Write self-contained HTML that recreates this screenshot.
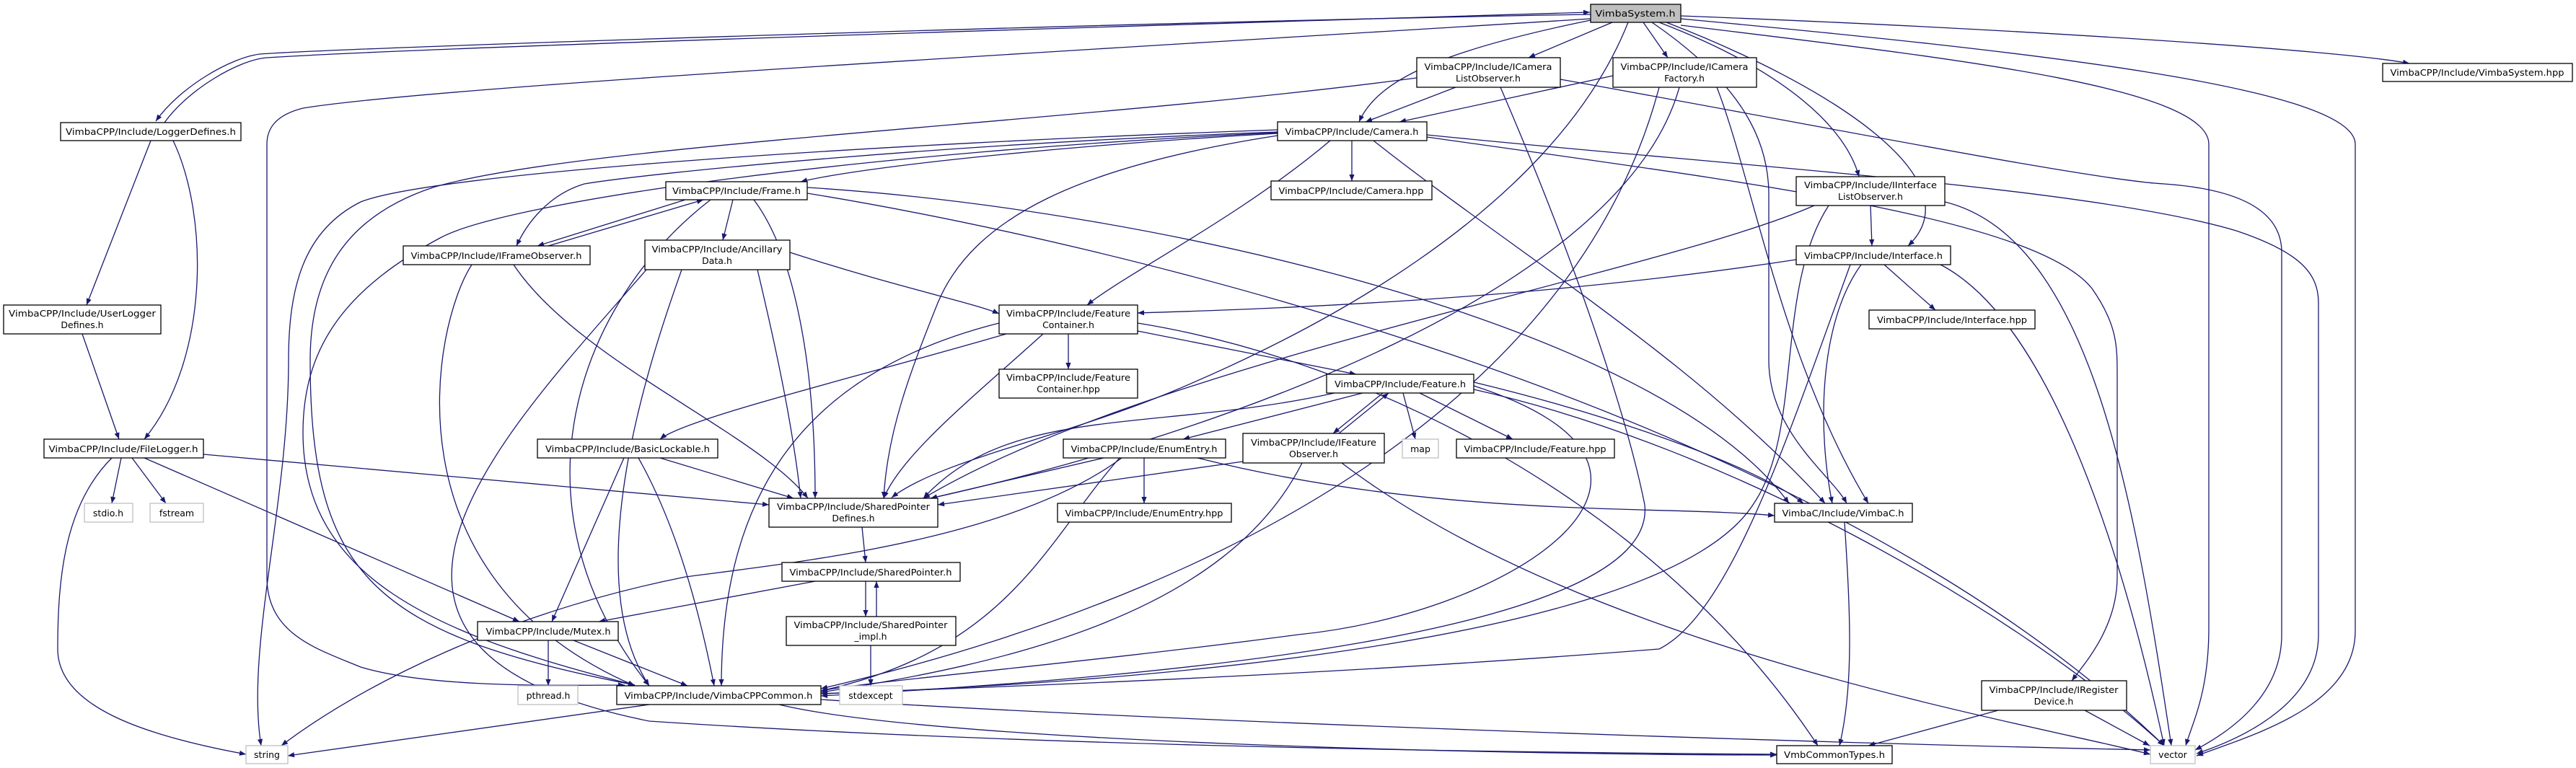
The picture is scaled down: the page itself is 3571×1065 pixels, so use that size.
<!DOCTYPE html>
<html><head><meta charset="utf-8"><style>
html,body{margin:0;padding:0;background:#fff;}
svg{display:block;}
text{font-family:"DejaVu Sans","Liberation Sans",sans-serif;font-size:12.5px;fill:#000;}
.e{fill:none;stroke:#191970;stroke-width:1.3;marker-end:url(#a);}
.n{fill:#fff;stroke:#000;stroke-width:1.3;}
.g{fill:#fff;stroke:#bfbfbf;stroke-width:1.3;}
</style></head><body>
<svg width="3571" height="1065" viewBox="0 0 3571 1065" xmlns="http://www.w3.org/2000/svg">
<defs><marker id="a" viewBox="0 0 10 10" refX="10" refY="5" markerWidth="11" markerHeight="9" markerUnits="userSpaceOnUse" orient="auto"><path d="M0,1 L10,5 L0,9z" fill="#191970"/></marker></defs>
<g>
<path class="e" d="M2205,20 C1600,30 500,65 360,75 C320,80 250,120 216,168"/>
<path class="e" d="M228,170 C260,125 330,83 370,80 C600,65 1600,35 2204,17"/>
<path class="e" d="M2205,26 C1500,70 600,120 420,150 C380,160 370,180 370,200 L370,800 C370,880 440,900 500,925 C600,955 780,950 866,950"/>
<path class="e" d="M2235,31 L2119,80"/>
<path class="e" d="M2278,31 L2312,80"/>
<path class="e" d="M2205,28 C2000,70 1910,110 1884,169"/>
<path class="e" d="M2257,31 C2150,300 1800,470 1620,545 C1460,610 1300,640 1236,690"/>
<path class="e" d="M2290,31 C2420,120 2452,200 2452,270 L2452,500 C2452,600 2540,660 2560,698"/>
<path class="e" d="M2300,31 C2480,100 2560,180 2577,245"/>
<path class="e" d="M2310,31 C2540,120 2740,250 2645,341"/>
<path class="e" d="M2330,22 C2800,40 3250,70 3340,88"/>
<path class="e" d="M2330,26 C2800,70 3265,120 3265,200 L3265,875 C3265,980 3120,1020 3045,1048"/>
<path class="e" d="M2163,110 C2500,170 2900,250 3000,255 C3100,262 3163,290 3163,350 L3163,880 C3163,960 3100,1010 3043,1040"/>
<path class="e" d="M1978,187 C2400,230 2900,260 3100,320 C3190,350 3214,380 3214,420 L3214,880 C3214,970 3120,1020 3045,1045"/>
<path class="e" d="M2330,35 C2700,80 3062,120 3062,200 L3062,870 C3062,960 3040,1000 3030,1034"/>
<path class="e" d="M1874,195 L1874,251"/>
<path class="e" d="M1771,185 C1500,200 1200,230 1110,252"/>
<path class="e" d="M1771,183 C1300,200 900,240 810,255 C760,270 730,310 716,341"/>
<path class="e" d="M1844,195 C1720,300 1560,380 1507,423"/>
<path class="e" d="M1771,188 C1500,230 1350,300 1300,420 C1260,520 1230,600 1225,691"/>
<path class="e" d="M1904,195 C2100,350 2350,500 2530,698"/>
<path class="e" d="M1771,180 C1200,200 600,240 500,280 C420,320 400,400 400,500 C400,700 340,900 362,1034"/>
<path class="e" d="M1771,184 C1200,210 700,280 610,330 C480,400 420,480 420,600 C420,800 600,880 880,950"/>
<path class="e" d="M1978,190 C2400,250 2820,300 2900,400 C2935,450 2935,480 2935,520 L2935,800 C2935,870 2890,920 2872,944"/>
<path class="e" d="M950,277 L745,341"/>
<path class="e" d="M760,341 L975,277"/>
<path class="e" d="M1016,277 L1002,333"/>
<path class="e" d="M1045,277 C1100,350 1130,500 1130,691"/>
<path class="e" d="M1119,260 C1600,290 2300,450 2480,698"/>
<path class="e" d="M1119,268 C1500,330 2500,550 3000,1034"/>
<path class="e" d="M985,277 C800,420 700,700 900,951"/>
<path class="e" d="M712,367 C800,500 1050,600 1120,691"/>
<path class="e" d="M654,367 C600,450 530,800 880,951"/>
<path class="e" d="M1095,350 C1250,400 1350,420 1385,435"/>
<path class="e" d="M1050,374 C1080,500 1100,600 1110,691"/>
<path class="e" d="M945,374 C900,500 800,800 900,951"/>
<path class="e" d="M896,374 C700,600 400,900 900,1000 C1500,1040 2300,1045 2463,1046"/>
<path class="e" d="M1481,463 L1481,512"/>
<path class="e" d="M1577,459 L1880,519"/>
<path class="e" d="M1395,463 C1200,520 950,580 915,609"/>
<path class="e" d="M1446,463 C1350,550 1250,630 1225,691"/>
<path class="e" d="M1385,448 C1100,520 1000,700 1000,951"/>
<path class="e" d="M1577,448 C1900,500 2300,700 2520,1034"/>
<path class="e" d="M1889,545 L1640,609"/>
<path class="e" d="M1917,545 L1848,601"/>
<path class="e" d="M1856,601 L1925,545"/>
<path class="e" d="M1945,545 L1962,609"/>
<path class="e" d="M1968,545 L2097,609"/>
<path class="e" d="M2043,530 C2250,580 2440,650 2500,698"/>
<path class="e" d="M2043,540 C2400,620 2800,850 3000,1034"/>
<path class="e" d="M1850,545 C1600,600 1400,560 1280,691"/>
<path class="e" d="M2043,535 C2400,650 2100,850 1800,880 C1500,920 1200,945 1138,958"/>
<path class="e" d="M1586,635 L1586,698"/>
<path class="e" d="M1530,635 L1290,691"/>
<path class="e" d="M1660,635 C2000,720 2300,700 2460,715"/>
<path class="e" d="M1555,635 C1400,750 1100,780 950,800 C700,850 500,950 390,1034"/>
<path class="e" d="M1552,635 C1450,750 1400,900 1138,958"/>
<path class="e" d="M1723,640 L1300,700"/>
<path class="e" d="M1805,642 C1700,850 1400,920 1138,960"/>
<path class="e" d="M1860,642 C2200,900 2800,1000 2981,1046"/>
<path class="e" d="M915,635 L1100,691"/>
<path class="e" d="M865,635 L765,862"/>
<path class="e" d="M885,635 C950,750 980,900 990,951"/>
<path class="e" d="M1195,731 L1200,780"/>
<path class="e" d="M1130,806 L830,862"/>
<path class="e" d="M1200,806 L1200,855"/>
<path class="e" d="M1215,855 L1215,806"/>
<path class="e" d="M1207,895 L1207,951"/>
<path class="e" d="M760,888 L760,951"/>
<path class="e" d="M795,888 L953,951"/>
<path class="e" d="M900,977 L399,1048"/>
<path class="e" d="M1080,977 C1300,1030 2100,1047 2463,1047"/>
<path class="e" d="M1138,970 C1600,1000 2500,1030 2981,1040"/>
<path class="e" d="M2593,285 L2595,341"/>
<path class="e" d="M2515,285 C2300,380 1600,500 1280,691"/>
<path class="e" d="M2535,285 C2460,400 2500,600 2430,700 C2300,900 1500,950 1138,962"/>
<path class="e" d="M2696,280 C2900,330 2960,700 3010,1034"/>
<path class="e" d="M2490,360 C2100,420 1700,430 1577,434"/>
<path class="e" d="M2612,367 L2683,430"/>
<path class="e" d="M2580,367 C2520,450 2520,600 2540,698"/>
<path class="e" d="M2565,367 C2480,600 2400,850 2300,900 C1800,940 1300,955 1138,962"/>
<path class="e" d="M2690,367 C2850,450 2950,800 3000,1034"/>
<path class="e" d="M2557,724 C2565,850 2570,950 2550,1034"/>
<path class="e" d="M2770,985 L2590,1034"/>
<path class="e" d="M2890,985 L2980,1034"/>
<path class="e" d="M2018,121 L1893,169"/>
<path class="e" d="M1964,108 C1500,170 800,200 600,260 C480,300 430,380 430,500 C430,800 520,880 880,950"/>
<path class="e" d="M2080,121 C2200,400 2260,600 2280,700 C2300,880 1600,940 1138,965"/>
<path class="e" d="M2236,105 L1940,169"/>
<path class="e" d="M2328,121 C2250,400 1700,600 1290,691"/>
<path class="e" d="M2380,121 C2430,250 2470,500 2590,698"/>
<path class="e" d="M2300,121 C2200,500 1800,800 1138,955"/>
<path class="e" d="M209,195 L120,423"/>
<path class="e" d="M240,195 C290,300 290,500 200,609"/>
<path class="e" d="M114,463 L165,609"/>
<path class="e" d="M168,635 L155,698"/>
<path class="e" d="M183,635 L230,698"/>
<path class="e" d="M155,635 C90,700 80,800 80,900 C80,980 200,1020 341,1046"/>
<path class="e" d="M200,635 L720,862"/>
<path class="e" d="M282,630 L1066,700"/>
</g>
<g>
<rect x="2205" y="6" width="125" height="25" fill="#bfbfbf" stroke="#000" stroke-width="1.3"/><text x="2267" y="23" text-anchor="middle" textLength="111" lengthAdjust="spacingAndGlyphs">VimbaSystem.h</text>
<rect class="n" x="84" y="170" width="250" height="25"/><text x="209" y="187" text-anchor="middle" textLength="236" lengthAdjust="spacingAndGlyphs">VimbaCPP/Include/LoggerDefines.h</text>
<rect class="n" x="5" y="423" width="218" height="40"/><text x="114" y="439" text-anchor="middle" textLength="204" lengthAdjust="spacingAndGlyphs">VimbaCPP/Include/UserLogger</text><text x="114" y="455" text-anchor="middle">Defines.h</text>
<rect class="n" x="61" y="609" width="221" height="26"/><text x="171" y="627" text-anchor="middle" textLength="207" lengthAdjust="spacingAndGlyphs">VimbaCPP/Include/FileLogger.h</text>
<rect class="g" x="117" y="698" width="67" height="26"/><text x="150" y="716" text-anchor="middle" fill="#000">stdio.h</text>
<rect class="g" x="208" y="698" width="74" height="26"/><text x="245" y="716" text-anchor="middle">fstream</text>
<rect class="g" x="341" y="1034" width="58" height="25"/><text x="370" y="1051" text-anchor="middle">string</text>
<rect class="n" x="1964" y="80" width="199" height="41"/><text x="2063" y="97" text-anchor="middle" textLength="177" lengthAdjust="spacingAndGlyphs">VimbaCPP/Include/ICamera</text><text x="2063" y="113" text-anchor="middle">ListObserver.h</text>
<rect class="n" x="2236" y="80" width="199" height="41"/><text x="2335" y="97" text-anchor="middle" textLength="177" lengthAdjust="spacingAndGlyphs">VimbaCPP/Include/ICamera</text><text x="2335" y="113" text-anchor="middle">Factory.h</text>
<rect class="n" x="1771" y="169" width="207" height="26"/><text x="1874" y="187" text-anchor="middle" textLength="185" lengthAdjust="spacingAndGlyphs">VimbaCPP/Include/Camera.h</text>
<rect class="n" x="1762" y="251" width="223" height="26"/><text x="1873" y="269" text-anchor="middle" textLength="201" lengthAdjust="spacingAndGlyphs">VimbaCPP/Include/Camera.hpp</text>
<rect class="n" x="923" y="252" width="196" height="25"/><text x="1021" y="269" text-anchor="middle" textLength="178" lengthAdjust="spacingAndGlyphs">VimbaCPP/Include/Frame.h</text>
<rect class="n" x="559" y="341" width="259" height="26"/><text x="688" y="359" text-anchor="middle" textLength="237" lengthAdjust="spacingAndGlyphs">VimbaCPP/Include/IFrameObserver.h</text>
<rect class="n" x="894" y="333" width="201" height="41"/><text x="994" y="350" text-anchor="middle" textLength="181" lengthAdjust="spacingAndGlyphs">VimbaCPP/Include/Ancillary</text><text x="994" y="366" text-anchor="middle">Data.h</text>
<rect class="n" x="1385" y="423" width="192" height="40"/><text x="1481" y="439" text-anchor="middle" textLength="172" lengthAdjust="spacingAndGlyphs">VimbaCPP/Include/Feature</text><text x="1481" y="455" text-anchor="middle">Container.h</text>
<rect class="n" x="1385" y="512" width="192" height="40"/><text x="1481" y="528" text-anchor="middle" textLength="172" lengthAdjust="spacingAndGlyphs">VimbaCPP/Include/Feature</text><text x="1481" y="544" text-anchor="middle">Container.hpp</text>
<rect class="n" x="1839" y="519" width="204" height="26"/><text x="1941" y="537" text-anchor="middle" textLength="182" lengthAdjust="spacingAndGlyphs">VimbaCPP/Include/Feature.h</text>
<rect class="n" x="1474" y="609" width="225" height="26"/><text x="1586" y="627" text-anchor="middle" textLength="203" lengthAdjust="spacingAndGlyphs">VimbaCPP/Include/EnumEntry.h</text>
<rect class="n" x="1723" y="601" width="196" height="41"/><text x="1821" y="618" text-anchor="middle" textLength="174" lengthAdjust="spacingAndGlyphs">VimbaCPP/Include/IFeature</text><text x="1821" y="634" text-anchor="middle">Observer.h</text>
<rect class="g" x="1944" y="609" width="50" height="26"/><text x="1969" y="627" text-anchor="middle">map</text>
<rect class="n" x="2019" y="609" width="219" height="26"/><text x="2128" y="627" text-anchor="middle" textLength="197" lengthAdjust="spacingAndGlyphs">VimbaCPP/Include/Feature.hpp</text>
<rect class="n" x="1466" y="698" width="241" height="26"/><text x="1586" y="716" text-anchor="middle" textLength="219" lengthAdjust="spacingAndGlyphs">VimbaCPP/Include/EnumEntry.hpp</text>
<rect class="n" x="745" y="609" width="250" height="26"/><text x="870" y="627" text-anchor="middle" textLength="228" lengthAdjust="spacingAndGlyphs">VimbaCPP/Include/BasicLockable.h</text>
<rect class="n" x="1066" y="691" width="234" height="40"/><text x="1183" y="707" text-anchor="middle" textLength="212" lengthAdjust="spacingAndGlyphs">VimbaCPP/Include/SharedPointer</text><text x="1183" y="723" text-anchor="middle">Defines.h</text>
<rect class="n" x="1084" y="780" width="247" height="26"/><text x="1207" y="798" text-anchor="middle" textLength="225" lengthAdjust="spacingAndGlyphs">VimbaCPP/Include/SharedPointer.h</text>
<rect class="n" x="1090" y="855" width="235" height="40"/><text x="1207" y="871" text-anchor="middle" textLength="213" lengthAdjust="spacingAndGlyphs">VimbaCPP/Include/SharedPointer</text><text x="1207" y="887" text-anchor="middle">_impl.h</text>
<rect class="n" x="662" y="862" width="195" height="26"/><text x="760" y="880" text-anchor="middle" textLength="173" lengthAdjust="spacingAndGlyphs">VimbaCPP/Include/Mutex.h</text>
<rect class="g" x="718" y="951" width="83" height="26"/><text x="760" y="969" text-anchor="middle">pthread.h</text>
<rect class="n" x="855" y="951" width="283" height="26"/><text x="996" y="969" text-anchor="middle" textLength="261" lengthAdjust="spacingAndGlyphs">VimbaCPP/Include/VimbaCPPCommon.h</text>
<rect class="g" x="1164" y="951" width="87" height="26"/><text x="1207" y="969" text-anchor="middle">stdexcept</text>
<rect class="n" x="2460" y="698" width="191" height="26"/><text x="2555" y="716" text-anchor="middle" textLength="169" lengthAdjust="spacingAndGlyphs">VimbaC/Include/VimbaC.h</text>
<rect class="n" x="2747" y="944" width="201" height="41"/><text x="2847" y="961" text-anchor="middle" textLength="179" lengthAdjust="spacingAndGlyphs">VimbaCPP/Include/IRegister</text><text x="2847" y="977" text-anchor="middle">Device.h</text>
<rect class="n" x="2463" y="1034" width="160" height="25"/><text x="2543" y="1051" text-anchor="middle" textLength="140" lengthAdjust="spacingAndGlyphs">VmbCommonTypes.h</text>
<rect class="g" x="2981" y="1034" width="62" height="25"/><text x="3012" y="1051" text-anchor="middle">vector</text>
<rect class="n" x="2490" y="245" width="206" height="40"/><text x="2593" y="261" text-anchor="middle" textLength="184" lengthAdjust="spacingAndGlyphs">VimbaCPP/Include/IInterface</text><text x="2593" y="277" text-anchor="middle">ListObserver.h</text>
<rect class="n" x="2490" y="341" width="214" height="26"/><text x="2597" y="359" text-anchor="middle" textLength="192" lengthAdjust="spacingAndGlyphs">VimbaCPP/Include/Interface.h</text>
<rect class="n" x="2591" y="430" width="230" height="26"/><text x="2706" y="448" text-anchor="middle" textLength="208" lengthAdjust="spacingAndGlyphs">VimbaCPP/Include/Interface.hpp</text>
<rect class="n" x="3303" y="88" width="263" height="25"/><text x="3434" y="105" text-anchor="middle" textLength="241" lengthAdjust="spacingAndGlyphs">VimbaCPP/Include/VimbaSystem.hpp</text>
</g>
</svg>
</body></html>
